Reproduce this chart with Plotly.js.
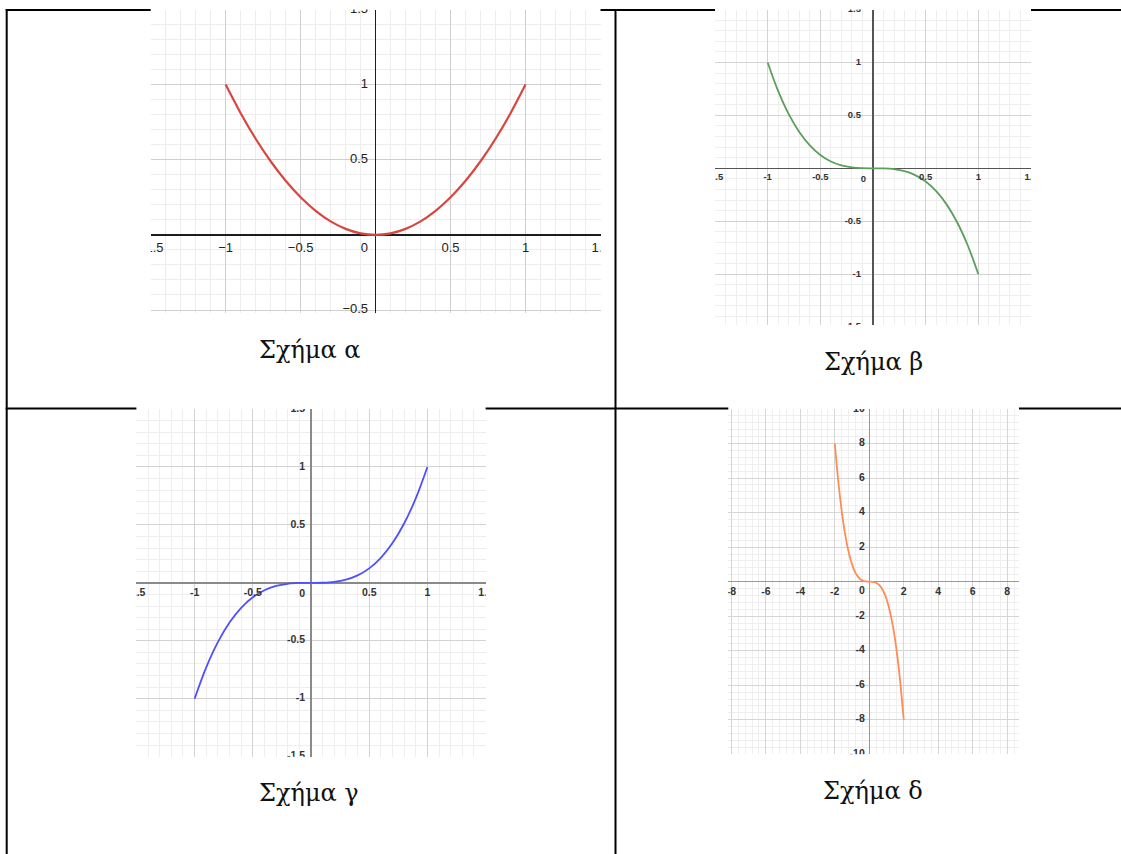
<!DOCTYPE html>
<html>
<head>
<meta charset="utf-8">
<script src="https://cdn.plot.ly/plotly-3.0.1.min.js"></script>
<style>
  html, body { margin: 0; padding: 0; background: #fff; }
  #chart { width: 1121px; height: 854px; }
</style>
</head>
<body>
<div id="chart"></div>
<script>
// Σχήμα α — parabola through (±1, 1)
const xA = [-1, -0.9, -0.8, -0.7, -0.6, -0.5, -0.4, -0.3, -0.2, -0.1, 0, 0.1, 0.2, 0.3, 0.4, 0.5, 0.6, 0.7, 0.8, 0.9, 1];
const yA = [1, 0.81, 0.64, 0.49, 0.36, 0.25, 0.16, 0.09, 0.04, 0.01, 0, 0.01, 0.04, 0.09, 0.16, 0.25, 0.36, 0.49, 0.64, 0.81, 1];

// Σχήμα β — decreasing cubic from (−1, 1) to (1, −1)
const xB = [-1, -0.9, -0.8, -0.7, -0.6, -0.5, -0.4, -0.3, -0.2, -0.1, 0, 0.1, 0.2, 0.3, 0.4, 0.5, 0.6, 0.7, 0.8, 0.9, 1];
const yB = [1, 0.729, 0.512, 0.343, 0.216, 0.125, 0.064, 0.027, 0.008, 0.001, 0, -0.001, -0.008, -0.027, -0.064, -0.125, -0.216, -0.343, -0.512, -0.729, -1];

// Σχήμα γ — increasing cubic from (−1, −1) to (1, 1)
const xC = [-1, -0.9, -0.8, -0.7, -0.6, -0.5, -0.4, -0.3, -0.2, -0.1, 0, 0.1, 0.2, 0.3, 0.4, 0.5, 0.6, 0.7, 0.8, 0.9, 1];
const yC = [-1, -0.729, -0.512, -0.343, -0.216, -0.125, -0.064, -0.027, -0.008, -0.001, 0, 0.001, 0.008, 0.027, 0.064, 0.125, 0.216, 0.343, 0.512, 0.729, 1];

// Σχήμα δ — decreasing cubic from (−2, 8) to (2, −8)
const xD = [-2, -1.8, -1.6, -1.4, -1.2, -1, -0.8, -0.6, -0.4, -0.2, 0, 0.2, 0.4, 0.6, 0.8, 1, 1.2, 1.4, 1.6, 1.8, 2];
const yD = [8, 5.83, 4.1, 2.74, 1.73, 1, 0.51, 0.22, 0.06, 0.01, 0, -0.01, -0.06, -0.22, -0.51, -1, -1.73, -2.74, -4.1, -5.83, -8];

// Tick values and their labels
const xTicksA = [-1.5, -1, -0.5, 0.5, 1, 1.5];
const xLabelsA = ['\u22121.5', '\u22121', '\u22120.5', '0.5', '1', '1.5'];
const yTicksA = [1.5, 1, 0.5, -0.5];
const yLabelsA = ['1.5', '1', '0.5', '\u22120.5'];

const xTicksUnit = [-1.5, -1, -0.5, 0.5, 1, 1.5];
const xLabelsUnit = ['-1.5', '-1', '-0.5', '0.5', '1', '1.5'];
const yTicksUnit = [1.5, 1, 0.5, -0.5, -1, -1.5];
const yLabelsUnit = ['1.5', '1', '0.5', '-0.5', '-1', '-1.5'];

const xTicksD = [-8, -6, -4, -2, 2, 4, 6, 8];
const xLabelsD = ['-8', '-6', '-4', '-2', '2', '4', '6', '8'];
const yTicksD = [10, 8, 6, 4, 2, -2, -4, -6, -8, -10];
const yLabelsD = ['10', '8', '6', '4', '2', '-2', '-4', '-6', '-8', '-10'];

const originLabel = '0';
const captions = ['Σχήμα α', 'Σχήμα β', 'Σχήμα γ', 'Σχήμα δ'];

// ---- page geometry (pixels → paper fractions) ----
const W = 1121, H = 854;
const fx = p => p / W;
const fy = p => 1 - p / H;

const sans = 'Liberation Sans, Arial, sans-serif';
const captionFont = { family: 'DejaVu Serif, serif', size: 24, color: '#111' };

const panels = [
  { x: xA, y: yA, color: '#d8463f', lw: 2.2,
    box: [150.7, 600.5, 9.5, 313], xr: [-1.5, 1.5], yr: [-0.52, 1.5],
    major: 0.5, minor: 0.1, axis: '#1c1c1c', axisW: 1.3, grid: '#cfcfcf', minorGrid: '#ededed',
    xt: xTicksA, xl: xLabelsA, yt: yTicksA, yl: yLabelsA,
    font: { family: sans, size: 13, color: '#222' },
    gapX: 7, gapY: 7.5, gapO: 7.5, cap: [310, 350] },
  { x: xB, y: yB, color: '#5c9f5c', lw: 1.8,
    box: [715, 1031, 9.5, 325], xr: [-1.5, 1.5], yr: [-1.48, 1.5],
    major: 0.5, minor: 0.1, axis: '#555', axisW: 1.1, grid: '#d3d3d3', minorGrid: '#eeeeee',
    xt: xTicksUnit, xl: xLabelsUnit, yt: yTicksUnit, yl: yLabelsUnit,
    font: { family: sans, size: 9.5, color: '#333', weight: 'bold' },
    gapX: 5, gapY: 12, gapO: 7, cap: [873, 362] },
  { x: xC, y: yC, color: '#4f4fff', lw: 1.8,
    box: [136.4, 485.6, 409, 756.7], xr: [-1.5, 1.5], yr: [-1.5, 1.5],
    major: 0.5, minor: 0.1, axis: '#8a8a8a', axisW: 1.6, grid: '#d3d3d3', minorGrid: '#eeeeee',
    xt: xTicksUnit, xl: xLabelsUnit, yt: yTicksUnit, yl: yLabelsUnit,
    font: { family: sans, size: 10.5, color: '#333', weight: 'bold' },
    gapX: 5, gapY: 6, gapO: 6, cap: [309, 793] },
  { x: xD, y: yD, color: '#ff8c55', lw: 1.8,
    box: [728.3, 1019, 409, 754.3], xr: [-8.18, 8.69], yr: [-10, 10],
    major: 2, minor: 0.4, axis: '#999', axisW: 1.5, grid: '#d6d6d6', minorGrid: '#efefef',
    xt: xTicksD, xl: xLabelsD, yt: yTicksD, yl: yLabelsD,
    font: { family: sans, size: 10.5, color: '#333', weight: 'bold' },
    gapX: 5.5, gapY: 4.5, gapO: 4.5, cap: [873, 791] }
];

const traces = [];
const annotations = [];
const layout = {
  width: W, height: H,
  margin: { l: 0, r: 0, t: 0, b: 0, pad: 0 },
  paper_bgcolor: '#ffffff',
  plot_bgcolor: '#ffffff',
  showlegend: false,
  shapes: [],
  annotations: annotations
};

// marker radius needed so that a text label sits `gap` px away from its point
const markerFor = gap => ({ size: Math.max(0.1, 1.6 * (gap - 1)), opacity: 0 });

panels.forEach((p, i) => {
  const n = i === 0 ? '' : String(i + 1);
  const xa = 'x' + n, ya = 'y' + n;

  layout['xaxis' + n] = {
    domain: [fx(p.box[0]), fx(p.box[1])], range: p.xr, anchor: ya,
    tick0: 0, dtick: p.major, showgrid: true, gridcolor: p.grid, gridwidth: 1,
    minor: { tick0: 0, dtick: p.minor, showgrid: true, gridcolor: p.minorGrid, gridwidth: 1 },
    zeroline: true, zerolinecolor: p.axis, zerolinewidth: p.axisW,
    showticklabels: false, ticks: '', showline: false, fixedrange: true
  };
  layout['yaxis' + n] = {
    domain: [fy(p.box[3]), fy(p.box[2])], range: p.yr, anchor: xa,
    tick0: 0, dtick: p.major, showgrid: true, gridcolor: p.grid, gridwidth: 1,
    minor: { tick0: 0, dtick: p.minor, showgrid: true, gridcolor: p.minorGrid, gridwidth: 1 },
    zeroline: true, zerolinecolor: p.axis, zerolinewidth: p.axisW,
    showticklabels: false, ticks: '', showline: false, fixedrange: true
  };

  // the function graph
  traces.push({
    type: 'scatter', mode: 'lines', x: p.x, y: p.y, xaxis: xa, yaxis: ya,
    line: { color: p.color, width: p.lw, shape: 'spline', smoothing: 1 },
    hoverinfo: 'skip', cliponaxis: true
  });

  // tick labels along the axes, clipped at the edge of the grid
  traces.push({
    type: 'scatter', mode: 'markers+text', x: p.xt, y: p.xt.map(() => 0),
    text: p.xl, textposition: 'bottom center', textfont: p.font,
    marker: markerFor(p.gapX), xaxis: xa, yaxis: ya, hoverinfo: 'skip', cliponaxis: true
  });
  traces.push({
    type: 'scatter', mode: 'markers+text', x: p.yt.map(() => 0), y: p.yt,
    text: p.yl, textposition: 'middle left', textfont: p.font,
    marker: markerFor(p.gapY), xaxis: xa, yaxis: ya, hoverinfo: 'skip', cliponaxis: true
  });
  traces.push({
    type: 'scatter', mode: 'markers+text', x: [0], y: [0],
    text: [originLabel], textposition: 'bottom left', textfont: p.font,
    marker: markerFor(p.gapO), xaxis: xa, yaxis: ya, hoverinfo: 'skip', cliponaxis: true
  });

  annotations.push({
    xref: 'paper', yref: 'paper', x: fx(p.cap[0]), y: fy(p.cap[1]),
    xanchor: 'center', yanchor: 'middle', showarrow: false,
    text: captions[i], font: captionFont
  });
});

// table rules, broken where a graph panel sits on top of them
const rule = (x0, y0, x1, y1) => ({
  type: 'line', xref: 'paper', yref: 'paper', layer: 'below',
  x0: fx(x0), y0: fy(y0), x1: fx(x1), y1: fy(y1),
  line: { color: '#000', width: 2 }
});
const [pa, pb, pc, pd] = panels.map(p => p.box);
layout.shapes.push(rule(5.7, 10, pa[0], 10));
layout.shapes.push(rule(pa[1], 10, pb[0], 10));
layout.shapes.push(rule(pb[1], 10, W, 10));
layout.shapes.push(rule(5.7, 408.5, pc[0], 408.5));
layout.shapes.push(rule(pc[1], 408.5, pd[0], 408.5));
layout.shapes.push(rule(pd[1], 408.5, W, 408.5));
layout.shapes.push(rule(6.7, 9, 6.7, H));       // left
layout.shapes.push(rule(615.5, 9, 615.5, H));   // middle vertical

Plotly.newPlot('chart', traces, layout, { staticPlot: true, displayModeBar: false });
</script>
</body>
</html>
